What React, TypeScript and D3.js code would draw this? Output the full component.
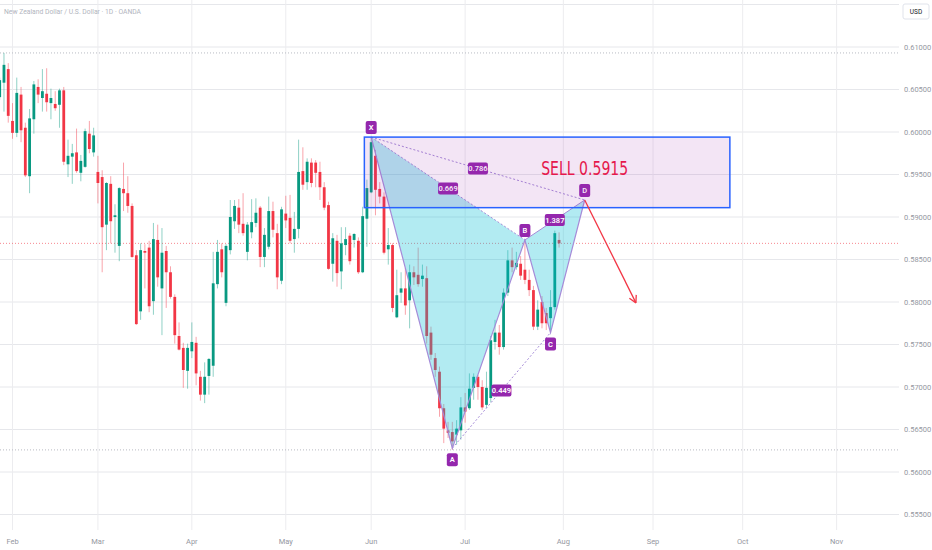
import * as d3 from 'd3'

// NZDUSD daily bars, Feb..Jul (bar index 0 = first visible bar)
const opens = [
  0.6041, 0.6058, 0.6074, 0.6013, 0.5999, 0.6044, 0.6005, 0.5948, 0.6015, 0.6053,
  0.6040, 0.6045, 0.6034, 0.6033, 0.6032, 0.6049, 0.5962, 0.5971, 0.5976, 0.5952,
  0.5959, 0.5998, 0.5976, 0.5953, 0.5947, 0.5891, 0.5939, 0.5900, 0.5866, 0.5933,
  0.5928, 0.5913, 0.5855, 0.5789, 0.5860, 0.5864, 0.5801, 0.5873, 0.5816, 0.5860,
  0.5835, 0.5806, 0.5760, 0.5746, 0.5719, 0.5742, 0.5752, 0.5712, 0.5691, 0.5713,
  0.5725, 0.5821, 0.5862, 0.5799, 0.5861, 0.5895, 0.5911, 0.5892, 0.5859, 0.5882,
  0.5893, 0.5911, 0.5853, 0.5865, 0.5907, 0.5881, 0.5825, 0.5904, 0.5899, 0.5874,
  0.5886, 0.5954, 0.5941, 0.5964, 0.5964, 0.5953, 0.5935, 0.5914, 0.5845, 0.5872,
  0.5836, 0.5867, 0.5878, 0.5873, 0.5872, 0.5835, 0.5898, 0.5929, 0.5972, 0.5933,
  0.5924, 0.5862, 0.5867, 0.5782, 0.5811, 0.5816, 0.5802, 0.5835, 0.5832, 0.5827,
  0.5828, 0.5764, 0.5734, 0.5718, 0.5675, 0.5649, 0.5647, 0.5644, 0.5649, 0.5676,
  0.5675, 0.5699, 0.5712, 0.5700, 0.5679, 0.5687, 0.5753, 0.5764, 0.5747, 0.5811,
  0.5849, 0.5841, 0.5845, 0.5838, 0.5826, 0.5814, 0.5771, 0.5800, 0.5787, 0.5781,
  0.5794, 0.5873,
]
const highs = [
  0.6064, 0.6093, 0.6081, 0.6034, 0.6064, 0.6053, 0.6011, 0.6027, 0.6060, 0.6062,
  0.6074, 0.6075, 0.6051, 0.6048, 0.6051, 0.6053, 0.5991, 0.5986, 0.6004, 0.5973,
  0.6004, 0.6013, 0.6005, 0.5972, 0.5955, 0.5941, 0.5948, 0.5915, 0.5935, 0.5964,
  0.5948, 0.5916, 0.5861, 0.5869, 0.5868, 0.5872, 0.5893, 0.5891, 0.5887, 0.5866,
  0.5842, 0.5809, 0.5776, 0.5752, 0.5751, 0.5776, 0.5759, 0.5719, 0.5729, 0.5734,
  0.5859, 0.5873, 0.5869, 0.5868, 0.5920, 0.5920, 0.5921, 0.5928, 0.5894, 0.5921,
  0.5922, 0.5913, 0.5887, 0.5924, 0.5918, 0.5892, 0.5912, 0.5925, 0.5926, 0.5906,
  0.5991, 0.5982, 0.5969, 0.5969, 0.5967, 0.5965, 0.5941, 0.5918, 0.5881, 0.5879,
  0.5888, 0.5888, 0.5881, 0.5881, 0.5876, 0.5912, 0.5944, 0.5994, 0.5979, 0.5941,
  0.5929, 0.5887, 0.5869, 0.5838, 0.5835, 0.5840, 0.5844, 0.5842, 0.5864, 0.5844,
  0.5842, 0.5771, 0.5740, 0.5724, 0.5680, 0.5659, 0.5659, 0.5661, 0.5688, 0.5693,
  0.5716, 0.5716, 0.5714, 0.5708, 0.5718, 0.5760, 0.5779, 0.5773, 0.5816, 0.5861,
  0.5864, 0.5859, 0.5854, 0.5873, 0.5838, 0.5819, 0.5802, 0.5807, 0.5793, 0.5814,
  0.5884, 0.5882,
]
const lows = [
  0.6038, 0.6024, 0.6011, 0.5992, 0.5994, 0.5988, 0.5947, 0.5928, 0.5998, 0.6034,
  0.6024, 0.6024, 0.6015, 0.6025, 0.6005, 0.5961, 0.5947, 0.5939, 0.5952, 0.5942,
  0.5958, 0.5975, 0.5971, 0.5916, 0.5835, 0.5861, 0.5869, 0.5858, 0.5848, 0.5907,
  0.5905, 0.5852, 0.5773, 0.5779, 0.5816, 0.5788, 0.5785, 0.5818, 0.5761, 0.5793,
  0.5804, 0.5751, 0.5743, 0.5699, 0.5698, 0.5734, 0.5702, 0.5684, 0.5681, 0.5691,
  0.5712, 0.5816, 0.5829, 0.5795, 0.5856, 0.5886, 0.5881, 0.5878, 0.5849, 0.5875,
  0.5888, 0.5841, 0.5841, 0.5862, 0.5876, 0.5815, 0.5821, 0.5887, 0.5869, 0.5858,
  0.5875, 0.5932, 0.5932, 0.5935, 0.5935, 0.5920, 0.5908, 0.5838, 0.5824, 0.5818,
  0.5815, 0.5855, 0.5844, 0.5864, 0.5833, 0.5834, 0.5865, 0.5928, 0.5902, 0.5916,
  0.5856, 0.5844, 0.5788, 0.5781, 0.5799, 0.5785, 0.5769, 0.5820, 0.5818, 0.5818,
  0.5751, 0.5732, 0.5712, 0.5665, 0.5634, 0.5640, 0.5626, 0.5632, 0.5638, 0.5658,
  0.5673, 0.5685, 0.5685, 0.5673, 0.5675, 0.5682, 0.5744, 0.5738, 0.5744, 0.5807,
  0.5835, 0.5838, 0.5826, 0.5821, 0.5807, 0.5767, 0.5767, 0.5769, 0.5767, 0.5764,
  0.5791, 0.5864,
]
const closes = [
  0.6061, 0.6079, 0.6019, 0.5999, 0.6046, 0.6002, 0.5949, 0.6016, 0.6056, 0.6044,
  0.6048, 0.6035, 0.6040, 0.6028, 0.6049, 0.5965, 0.5972, 0.5975, 0.5954, 0.5966,
  0.6001, 0.5980, 0.5996, 0.5940, 0.5888, 0.5940, 0.5895, 0.5902, 0.5934, 0.5928,
  0.5913, 0.5853, 0.5774, 0.5861, 0.5858, 0.5795, 0.5874, 0.5829, 0.5858, 0.5835,
  0.5806, 0.5761, 0.5744, 0.5720, 0.5746, 0.5753, 0.5716, 0.5691, 0.5712, 0.5733,
  0.5822, 0.5859, 0.5835, 0.5866, 0.5900, 0.5913, 0.5891, 0.5881, 0.5891, 0.5894,
  0.5905, 0.5853, 0.5879, 0.5907, 0.5885, 0.5829, 0.5909, 0.5896, 0.5872, 0.5886,
  0.5953, 0.5938, 0.5965, 0.5940, 0.5952, 0.5935, 0.5911, 0.5839, 0.5875, 0.5834,
  0.5869, 0.5874, 0.5848, 0.5880, 0.5835, 0.5901, 0.5934, 0.5988, 0.5932, 0.5924,
  0.5858, 0.5867, 0.5793, 0.5808, 0.5816, 0.5796, 0.5835, 0.5829, 0.5821, 0.5831,
  0.5760, 0.5738, 0.5720, 0.5675, 0.5651, 0.5646, 0.5636, 0.5651, 0.5676, 0.5671,
  0.5698, 0.5712, 0.5700, 0.5676, 0.5699, 0.5755, 0.5764, 0.5747, 0.5811, 0.5849,
  0.5841, 0.5846, 0.5831, 0.5826, 0.5814, 0.5771, 0.5791, 0.5775, 0.5775, 0.5794,
  0.5881, 0.5869,
]

const monthNames = ['Feb', 'Mar', 'Apr', 'May', 'Jun', 'Jul', 'Aug', 'Sep', 'Oct', 'Nov']
const monthBars = [3, 23, 45, 67, 87, 109, 132, 153, 174, 196]
const priceTicks = [0.555, 0.56, 0.565, 0.57, 0.575, 0.58, 0.585, 0.59, 0.595, 0.6, 0.605, 0.61, 0.615]

// harmonic pattern X A B C D
const pointNames = ['X', 'A', 'B', 'C', 'D']
const pointBars = [87, 106, 123, 129, 137]
const pointPrices = [0.5994, 0.5628, 0.5873, 0.5764, 0.592]
const ratioTexts = ['0.669', '0.786', '0.449', '1.387']
const ratioPairs = [[0, 2], [0, 4], [1, 3], [2, 4]]

// sell zone + target arrow
const zoneBars = [85.4, 171]
const zonePrices = [0.5994, 0.5911]
const arrowBars = [137, 149]
const arrowPrices = [0.592, 0.5799]

const W = 932
const H = 550
const PLOT_R = 899
const UP = '#089981'
const DOWN = '#f23645'
const PURPLE = '#9427ad'
const LINE = '#a58bd8'
const FONT = 'Roboto, "Liberation Sans", sans-serif'

export default function App() {
  const x = d3.scaleLinear().domain([0, 196]).range([-0.3, -0.3 + 196 * 4.27])
  const y = d3.scaleLinear().domain([0.555, 0.615]).range([514.5, 4.5])
  const bodyW = 2.8

  const pts = pointBars.map((b, i) => [x(b), y(pointPrices[i])] as [number, number])
  const tri = (a: number, b: number, c: number) => d3.line()([pts[a], pts[b], pts[c], pts[a]]) ?? ''

  const hiLine = y(d3.max(highs)!)
  const loLine = y(d3.min(lows)!)
  const lastLine = y(closes[closes.length - 1])

  const ax0 = x(arrowBars[0]), ay0 = y(arrowPrices[0])
  const ax1 = x(arrowBars[1]), ay1 = y(arrowPrices[1])
  const ang = Math.atan2(ay1 - ay0, ax1 - ax0)
  const head = [ang + Math.PI - 0.5, ang + Math.PI + 0.5].map(a => [ax1 + 8 * Math.cos(a), ay1 + 8 * Math.sin(a)])

  return (
    <svg width={W} height={H} style={{ position: 'fixed', left: 0, top: 0, background: '#fff' }}
      fontFamily={FONT}>
      <rect width={W} height={H} fill="#fff" />

      {/* grid */}
      {priceTicks.map(p => (
        <line key={p} x1={0} x2={PLOT_R} y1={y(p)} y2={y(p)} stroke="#e6e7eb" strokeWidth={1} />
      ))}
      {monthBars.map(b => (
        <line key={b} x1={x(b)} x2={x(b)} y1={0} y2={530} stroke="#ececef" strokeWidth={1} />
      ))}

      {/* range + last price lines */}
      <line x1={0} x2={PLOT_R} y1={hiLine} y2={hiLine} stroke="#b8bbc3" strokeDasharray="1,2" />
      <line x1={0} x2={PLOT_R} y1={loLine} y2={loLine} stroke="#b8bbc3" strokeDasharray="1,2" />
      <line x1={0} x2={PLOT_R} y1={lastLine} y2={lastLine} stroke={DOWN} strokeOpacity={0.6}
        strokeDasharray="1,2" />

      {/* candles */}
      {closes.map((c, i) => {
        const o = opens[i]
        const up = c >= o
        const cx = x(i)
        const top = y(Math.max(o, c))
        const bot = y(Math.min(o, c))
        return (
          <g key={i}>
            <line x1={cx} x2={cx} y1={y(highs[i])} y2={y(lows[i])}
              stroke={up ? 'rgba(8,153,129,0.45)' : 'rgba(242,54,69,0.45)'} strokeWidth={1} />
            <rect x={cx - bodyW / 2} y={top} width={bodyW} height={Math.max(1, bot - top)}
              fill={up ? UP : DOWN} />
          </g>
        )
      })}

      {/* pattern fills */}
      <path d={tri(0, 1, 2)} fill="rgba(0,188,212,0.3)" />
      <path d={tri(2, 3, 4)} fill="rgba(0,188,212,0.3)" />

      {/* legs */}
      <path d={d3.line()(pts) ?? ''} fill="none" stroke={LINE} strokeWidth={1.2} />
      {ratioPairs.map(([a, b], i) => (
        <line key={i} x1={pts[a][0]} y1={pts[a][1]} x2={pts[b][0]} y2={pts[b][1]}
          stroke={LINE} strokeWidth={1} strokeDasharray={i === 3 ? undefined : '2,2'} />
      ))}

      {/* ratio labels */}
      {ratioPairs.map(([a, b], i) => {
        const mx = (pts[a][0] + pts[b][0]) / 2
        const my = (pts[a][1] + pts[b][1]) / 2
        return (
          <g key={i}>
            <rect x={mx - 10} y={my - 6} width={20} height={12} rx={2} fill={PURPLE} />
            <text x={mx} y={my} dy="0.35em" textAnchor="middle" fontSize={7.5} fill="#fff"
              fontWeight={600}>{ratioTexts[i]}</text>
          </g>
        )
      })}

      {/* point labels */}
      {pts.map(([px, py], i) => {
        const above = i % 2 === 0
        const ry = above ? py - 16 : py + 5
        return (
          <g key={i}>
            <rect x={px - 5.5} y={ry} width={11} height={13} rx={2} fill={PURPLE} />
            <text x={px} y={ry + 6.5} dy="0.35em" textAnchor="middle" fontSize={7.5} fill="#fff"
              fontWeight={600}>{pointNames[i]}</text>
          </g>
        )
      })}

      {/* sell zone */}
      <rect x={x(zoneBars[0])} y={y(zonePrices[0])} width={x(zoneBars[1]) - x(zoneBars[0])}
        height={y(zonePrices[1]) - y(zonePrices[0])}
        fill="rgba(156,39,176,0.12)" stroke="#2962ff" strokeWidth={1.5} />
      <text x={x(137)} y={y(0.5949)} textAnchor="middle" fontSize={19} fill="#e5194d"
        fontFamily='"Liberation Sans Narrow", "DejaVu Sans Condensed", Roboto, sans-serif'
        textLength={87} lengthAdjust="spacingAndGlyphs">SELL 0.5915</text>

      {/* target arrow */}
      <line x1={ax0} y1={ay0} x2={ax1} y2={ay1} stroke={DOWN} strokeWidth={1.3} />
      {head.map(([hx, hy], i) => (
        <line key={i} x1={ax1} y1={ay1} x2={hx} y2={hy} stroke={DOWN} strokeWidth={1.3} />
      ))}

      {/* price axis */}
      {priceTicks.slice(0, -1).map(p => (
        <text key={p} x={904} y={y(p)} dy="0.35em" fontSize={7.5} fill="#9598a1">
          {d3.format('.5f')(p)}
        </text>
      ))}
      <rect x={903} y={4} width={26} height={15} rx={2} fill="#fff" stroke="#e0e3eb" />
      <text x={916} y={11.5} dy="0.35em" textAnchor="middle" fontSize={6.5} fill="#131722">USD</text>

      {/* time axis */}
      {monthNames.map((m, i) => (
        <text key={m} x={x(monthBars[i])} y={541} dy="0.35em" textAnchor="middle" fontSize={7.5}
          fill="#9598a1">{m}</text>
      ))}

      <text x={4} y={13.5} fontSize={7.5} fill="#b2b5be" textLength={137}
        lengthAdjust="spacingAndGlyphs">New Zealand Dollar / U.S. Dollar · 1D · OANDA</text>
    </svg>
  )
}
